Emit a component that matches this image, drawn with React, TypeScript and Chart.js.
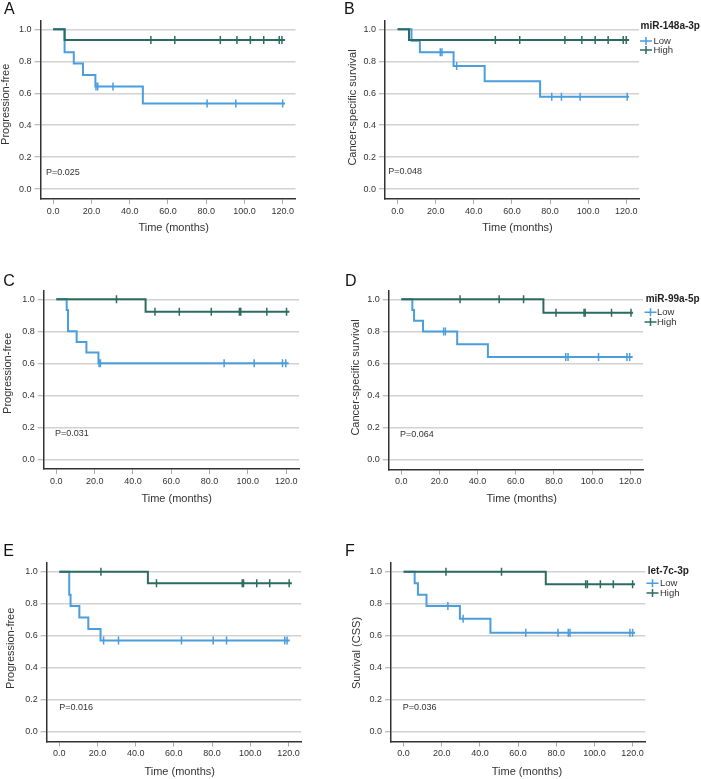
import React, { useEffect, useRef } from 'react';
import { Chart, registerables } from 'chart.js';
Chart.register(...registerables);

const FONT = "'Liberation Sans', Arial, Helvetica, sans-serif";
const HIGH_COLOR = '#2c6c60';
const LOW_COLOR = '#4b9ddc';
const TEXT_COLOR = '#333333';

const xTicks = [0, 20, 40, 60, 80, 100, 120];
const yTicks = [0, 0.2, 0.4, 0.6, 0.8, 1.0];
const groupLabels = ['Low', 'High'];

// ---------- Panel A (progression-free, miR-148a-3p) ----------
const A_highEventT = [6.0];
const A_highEventS = [0.933];
const A_highCensT = [51.1, 63.6, 87.4, 96.1, 103.1, 110.1, 118.2, 119.6];
const A_highEnd = 121.2;
const A_lowEventT = [6.0, 10.8, 15.6, 22.1, 46.9];
const A_lowEventS = [0.857, 0.786, 0.714, 0.643, 0.536];
const A_lowCensT = [22.4, 23.3, 31.3, 80.5, 95.5, 120.0];
const A_lowEnd = 121.2;

// ---------- Panel B (cancer-specific survival, miR-148a-3p) ----------
const B_highEventT = [6.0];
const B_highEventS = [0.933];
const B_highCensT = [51.3, 64.1, 87.8, 96.7, 103.7, 110.5, 118.4, 120.0];
const B_highEnd = 121.5;
const B_lowEventT = [7.3, 11.7, 29.4, 45.7, 74.8];
const B_lowEventS = [0.929, 0.857, 0.771, 0.675, 0.578];
const B_lowCensT = [22.4, 23.3, 31.0, 80.9, 86.0, 95.8, 120.5];
const B_lowEnd = 121.5;

// ---------- Panel C (progression-free, miR-99a-5p) ----------
const C_highEventT = [46.6];
const C_highEventS = [0.923];
const C_highCensT = [31.4, 51.5, 64.2, 80.9, 95.6, 96.3, 109.9, 120.2];
const C_highEnd = 121.7;
const C_lowEventT = [5.4, 6.1, 10.6, 15.7, 22.0];
const C_lowEventS = [0.933, 0.8, 0.733, 0.667, 0.6];
const C_lowCensT = [22.3, 23.0, 87.6, 103.3, 118.1, 119.8];
const C_lowEnd = 121.3;

// ---------- Panel D (cancer-specific survival, miR-99a-5p) ----------
const D_highEventT = [74.5];
const D_highEventS = [0.917];
const D_highCensT = [30.8, 51.3, 64.1, 81.1, 95.8, 96.4, 110.2, 120.4];
const D_highEnd = 121.5;
const D_lowEventT = [5.8, 6.7, 11.4, 29.3, 45.4];
const D_lowEventS = [0.933, 0.867, 0.8, 0.72, 0.64];
const D_lowCensT = [22.2, 23.1, 86.2, 87.4, 103.4, 118.3, 119.7];
const D_lowEnd = 121.3;

// ---------- Panel E (progression-free, let-7c-3p) ----------
const E_highEventT = [46.4];
const E_highEventS = [0.929];
const E_highCensT = [21.8, 50.9, 95.8, 96.5, 103.4, 110.2, 120.4];
const E_highEnd = 121.8;
const E_lowEventT = [5.2, 5.9, 10.5, 15.2, 21.6];
const E_lowEventS = [0.857, 0.786, 0.714, 0.643, 0.571];
const E_lowCensT = [23.2, 31.0, 64.0, 80.6, 87.6, 118.1, 119.3];
const E_lowEnd = 120.7;

// ---------- Panel F (survival CSS, let-7c-3p) ----------
const F_highEventT = [74.5];
const F_highEventS = [0.923];
const F_highCensT = [22.2, 51.3, 95.4, 96.3, 103.1, 109.9, 120.0];
const F_highEnd = 121.3;
const F_lowEventT = [5.8, 7.5, 12.0, 29.5, 45.5];
const F_lowEventS = [0.929, 0.857, 0.786, 0.707, 0.619];
const F_lowCensT = [23.2, 31.2, 64.0, 80.9, 86.3, 87.2, 118.6, 120.0];
const F_lowEnd = 121.3;

type Pt = { x: number; y: number; c: boolean };

function buildCurve(eventT: number[], eventS: number[], censT: number[], endT: number): Pt[] {
  const raw: { x: number; s: number | null; c: boolean; k: number }[] = [];
  eventT.forEach((t, i) => raw.push({ x: t, s: eventS[i], c: false, k: 0 }));
  censT.forEach((t) => raw.push({ x: t, s: null, c: true, k: 1 }));
  raw.push({ x: endT, s: null, c: false, k: 2 });
  raw.sort((a, b) => a.x - b.x || a.k - b.k);
  const pts: Pt[] = [{ x: 0, y: 1, c: false }];
  let cur = 1;
  raw.forEach((r) => {
    if (r.s !== null) cur = r.s;
    pts.push({ x: r.x, y: cur, c: r.c });
  });
  return pts;
}

type Panel = {
  canvas: [number, number, number, number];
  area: [number, number, number, number];
  letter: string;
  letterPos: [number, number];
  pText: string;
  pPos: [number, number];
  xTitle: string;
  xTitlePos: [number, number];
  yTitle: string;
  yTitlePos: [number, number];
  legend: null | { title: string; titlePos: [number, number]; rowsY: [number, number]; symX: number; textX: number };
  high: Pt[];
  low: Pt[];
};

const panels: Panel[] = [
  {
    canvas: [0, 0, 340, 250], area: [40.5, 295.5, 20.5, 198.8],
    letter: 'A', letterPos: [4, 14], pText: 'P=0.025', pPos: [46, 172.7],
    xTitle: 'Time (months)', xTitlePos: [173.7, 228.3],
    yTitle: 'Progression-free', yTitlePos: [5.5, 104.3], legend: null,
    high: buildCurve(A_highEventT, A_highEventS, A_highCensT, A_highEnd),
    low: buildCurve(A_lowEventT, A_lowEventS, A_lowCensT, A_lowEnd),
  },
  {
    canvas: [340, 0, 361, 250], area: [385, 639, 20.5, 198.8],
    letter: 'B', letterPos: [344, 14], pText: 'P=0.048', pPos: [388.3, 171.3],
    xTitle: 'Time (months)', xTitlePos: [517.5, 228.3],
    yTitle: 'Cancer-specific survival', yTitlePos: [352.5, 107.5],
    legend: { title: 'miR-148a-3p', titlePos: [640.5, 26.5], rowsY: [41, 50], symX: 646, textX: 653.5 },
    high: buildCurve(B_highEventT, B_highEventS, B_highCensT, B_highEnd),
    low: buildCurve(B_lowEventT, B_lowEventS, B_lowCensT, B_lowEnd),
  },
  {
    canvas: [0, 255, 340, 265], area: [43.7, 299, 290.5, 469],
    letter: 'C', letterPos: [3.3, 285.5], pText: 'P=0.031', pPos: [55, 433.3],
    xTitle: 'Time (months)', xTitlePos: [176.7, 499.3],
    yTitle: 'Progression-free', yTitlePos: [8, 373.3], legend: null,
    high: buildCurve(C_highEventT, C_highEventS, C_highCensT, C_highEnd),
    low: buildCurve(C_lowEventT, C_lowEventS, C_lowCensT, C_lowEnd),
  },
  {
    canvas: [340, 255, 361, 265], area: [388.7, 643, 290.5, 469.5],
    letter: 'D', letterPos: [345, 285.5], pText: 'P=0.064', pPos: [400, 435],
    xTitle: 'Time (months)', xTitlePos: [521.7, 499.3],
    yTitle: 'Cancer-specific survival', yTitlePos: [356, 377.5],
    legend: { title: 'miR-99a-5p', titlePos: [645.7, 299], rowsY: [312.3, 322], symX: 650.5, textX: 657 },
    high: buildCurve(D_highEventT, D_highEventS, D_highCensT, D_highEnd),
    low: buildCurve(D_lowEventT, D_lowEventS, D_lowCensT, D_lowEnd),
  },
  {
    canvas: [0, 520, 340, 259], area: [46.7, 301.2, 563, 741.5],
    letter: 'E', letterPos: [3.3, 555.5], pText: 'P=0.016', pPos: [59.3, 707.7],
    xTitle: 'Time (months)', xTitlePos: [179.7, 772.3],
    yTitle: 'Progression-free', yTitlePos: [10.8, 648.3], legend: null,
    high: buildCurve(E_highEventT, E_highEventS, E_highCensT, E_highEnd),
    low: buildCurve(E_lowEventT, E_lowEventS, E_lowCensT, E_lowEnd),
  },
  {
    canvas: [340, 520, 361, 259], area: [391, 645.4, 563, 741.5],
    letter: 'F', letterPos: [345, 555.5], pText: 'P=0.036', pPos: [402.7, 707.7],
    xTitle: 'Time (months)', xTitlePos: [527, 772.3],
    yTitle: 'Survival (CSS)', yTitlePos: [356.7, 653],
    legend: { title: 'let-7c-3p', titlePos: [647.7, 571], rowsY: [583.3, 593], symX: 652.5, textX: 660 },
    high: buildCurve(F_highEventT, F_highEventS, F_highCensT, F_highEnd),
    low: buildCurve(F_lowEventT, F_lowEventS, F_lowCensT, F_lowEnd),
  },
];

const Y_AXIS_W = 30;
const X_AXIS_H = 20;

function makeExtras(p: Panel) {
  return {
    id: 'extras' + p.letter,
    afterDraw(chart: any) {
      const ctx: CanvasRenderingContext2D = chart.ctx;
      const ox = p.canvas[0];
      const oy = p.canvas[1];
      ctx.save();
      ctx.fillStyle = '#111';
      ctx.font = `16px ${FONT}`;
      ctx.textAlign = 'left';
      ctx.textBaseline = 'alphabetic';
      ctx.fillText(p.letter, p.letterPos[0] - ox, p.letterPos[1] - oy);

      ctx.fillStyle = TEXT_COLOR;
      ctx.font = `9px ${FONT}`;
      ctx.textBaseline = 'middle';
      ctx.fillText(p.pText, p.pPos[0] - ox, p.pPos[1] - oy);

      ctx.font = `11px ${FONT}`;
      ctx.textAlign = 'center';
      ctx.fillText(p.xTitle, p.xTitlePos[0] - ox, p.xTitlePos[1] - oy);

      ctx.save();
      ctx.translate(p.yTitlePos[0] - ox, p.yTitlePos[1] - oy);
      ctx.rotate(-Math.PI / 2);
      ctx.fillText(p.yTitle, 0, 0);
      ctx.restore();

      if (p.legend) {
        const L = p.legend;
        ctx.textAlign = 'left';
        ctx.fillStyle = '#222';
        ctx.font = `bold 10px ${FONT}`;
        ctx.fillText(L.title, L.titlePos[0] - ox, L.titlePos[1] - oy);
        const cols = [LOW_COLOR, HIGH_COLOR];
        groupLabels.forEach((lab, i) => {
          const cy = L.rowsY[i] - oy;
          const cx = L.symX - ox;
          ctx.strokeStyle = cols[i];
          ctx.lineWidth = 1.5;
          ctx.beginPath();
          ctx.moveTo(cx - 6, cy);
          ctx.lineTo(cx + 6, cy);
          ctx.moveTo(cx, cy - 4);
          ctx.lineTo(cx, cy + 4);
          ctx.stroke();
          ctx.fillStyle = TEXT_COLOR;
          ctx.font = `9.5px ${FONT}`;
          ctx.fillText(lab, L.textX - ox, cy);
        });
      }
      ctx.restore();
    },
  };
}

function dataset(label: string, pts: Pt[], color: string, order: number) {
  return {
    label,
    data: pts,
    borderColor: color,
    backgroundColor: color,
    borderWidth: 2,
    stepped: 'before' as const,
    fill: false,
    tension: 0,
    order,
    pointStyle: 'line' as const,
    pointRotation: 90,
    pointRadius: pts.map((q) => (q.c ? 4 : 0)),
    pointHoverRadius: pts.map((q) => (q.c ? 4 : 0)),
    pointBorderColor: color,
    pointBorderWidth: 1.5,
  };
}

function PanelChart({ p }: { p: Panel }) {
  const ref = useRef<HTMLCanvasElement>(null);
  useEffect(() => {
    if (!ref.current) return;
    const [cl, ct, cw, ch] = p.canvas;
    const [al, ar, at, ab] = p.area;
    const chart = new Chart(ref.current, {
      type: 'line',
      data: {
        datasets: [
          dataset('High', p.high, HIGH_COLOR, 0),
          dataset('Low', p.low, LOW_COLOR, 1),
        ] as any,
      },
      options: {
        animation: false,
        responsive: false,
        maintainAspectRatio: false,
        events: [],
        layout: {
          padding: {
            left: al - cl - Y_AXIS_W,
            right: cl + cw - ar,
            top: at - ct,
            bottom: ct + ch - ab - X_AXIS_H,
          },
        },
        plugins: { legend: { display: false }, tooltip: { enabled: false }, title: { display: false } },
        scales: {
          x: {
            type: 'linear',
            min: -6.6,
            max: 126.7,
            afterBuildTicks: (s: any) => { s.ticks = xTicks.map((v) => ({ value: v })); },
            afterFit: (s: any) => { s.height = X_AXIS_H; },
            ticks: {
              callback: (v: any) => Number(v).toFixed(1),
              font: { family: FONT, size: 9 },
              color: TEXT_COLOR,
              padding: 2,
              maxRotation: 0,
              autoSkip: false,
            },
            grid: { drawOnChartArea: false, tickLength: 5, tickColor: '#a8a8a8', tickWidth: 1 },
            border: { display: true, color: '#333', width: 1.5 },
          },
          y: {
            type: 'linear',
            min: -0.06,
            max: 1.055,
            afterBuildTicks: (s: any) => { s.ticks = yTicks.map((v) => ({ value: v })); },
            afterFit: (s: any) => { s.width = Y_AXIS_W; },
            ticks: {
              callback: (v: any) => Number(v).toFixed(1),
              font: { family: FONT, size: 9 },
              color: TEXT_COLOR,
              padding: 3,
            },
            grid: { color: '#d2d2d2', lineWidth: 1.5, tickLength: 6, tickColor: '#a8a8a8', tickWidth: 1 },
            border: { display: true, color: '#333', width: 1.5 },
          },
        },
      } as any,
      plugins: [makeExtras(p)],
    });
    return () => chart.destroy();
  }, [p]);
  const [cl, ct, cw, ch] = p.canvas;
  return (
    <canvas
      ref={ref}
      width={cw}
      height={ch}
      style={{ position: 'absolute', left: cl, top: ct, width: cw, height: ch }}
    />
  );
}

export default function App() {
  return (
    <div style={{ position: 'absolute', left: 0, top: 0, width: 701, height: 779, background: '#fff', overflow: 'hidden' }}>
      {panels.map((p) => (
        <PanelChart key={p.letter} p={p} />
      ))}
    </div>
  );
}
